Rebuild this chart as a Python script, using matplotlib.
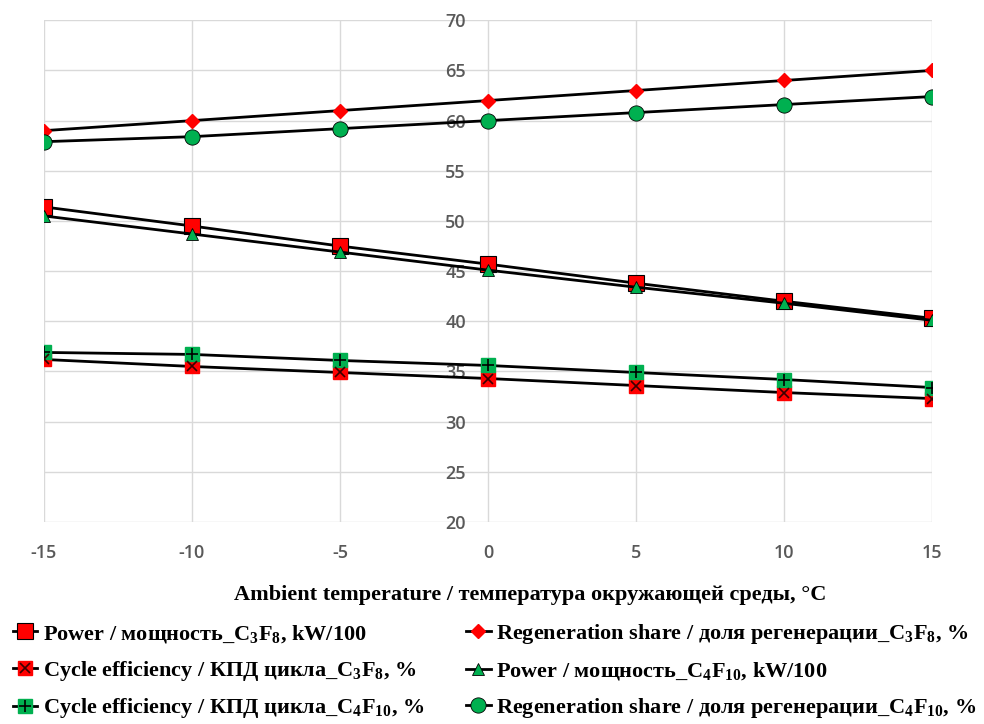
import matplotlib
matplotlib.use("Agg")
import matplotlib.pyplot as plt
from matplotlib.legend_handler import HandlerTuple

plt.rcParams['axes.unicode_minus'] = False
plt.rcParams['mathtext.default'] = 'regular'

# data
temp = [-15, -10, -5, 0, 5, 10, 15]
power_c3f8 = [51.4, 49.5, 47.5, 45.7, 43.8, 42.0, 40.3]
regen_c3f8 = [59, 60, 61, 62, 63, 64, 65]
eff_c3f8 = [36.2, 35.5, 34.9, 34.3, 33.6, 32.9, 32.3]
power_c4f10 = [50.5, 48.7, 46.9, 45.1, 43.4, 41.8, 40.1]
eff_c4f10 = [36.9, 36.7, 36.1, 35.6, 34.9, 34.2, 33.4]
regen_c4f10 = [57.9, 58.4, 59.2, 60.0, 60.8, 61.6, 62.4]

labels = [
    "Power / мощность_C$_3$F$_8$, kW/100",
    "Cycle efficiency / КПД цикла_C$_3$F$_8$, %",
    "Cycle efficiency / КПД цикла_C$_4$F$_{10}$, %",
    "Regeneration share / доля регенерации_C$_3$F$_8$, %",
    "Power / мощность_C$_4$F$_{10}$, kW/100",
    "Regeneration share / доля регенерации_C$_4$F$_{10}$, %",
]

red = '#ff0000'
green = '#00b050'

fig = plt.figure(figsize=(9.84, 7.24), dpi=100)
ax = fig.add_axes([0.0447, 0.279, 0.9025, 0.693])

h1, = ax.plot(temp, power_c3f8, color='black', lw=2, marker='s', ms=11,
              mfc=red, mec='black', mew=0.8, zorder=3)
h4, = ax.plot(temp, regen_c3f8, color='black', lw=2, marker='D', ms=7,
              mfc=red, mec=red, zorder=3)
h2a, = ax.plot(temp, eff_c3f8, color='black', lw=2, marker='s', ms=10,
               mfc=red, mec=red, zorder=3)
h2b, = ax.plot(temp, eff_c3f8, ls='none', marker='x', ms=7, mec='#3a0000',
               mew=1.2, zorder=4)
h5, = ax.plot(temp, power_c4f10, color='black', lw=2, marker='^', ms=9,
              mfc=green, mec='black', mew=0.6, zorder=4)
h3a, = ax.plot(temp, eff_c4f10, color='black', lw=2, marker='s', ms=10,
               mfc=green, mec=green, zorder=3)
h3b, = ax.plot(temp, eff_c4f10, ls='none', marker='+', ms=9, mec='black',
               mew=1.2, zorder=4)
h6, = ax.plot(temp, regen_c4f10, color='black', lw=2, marker='o', ms=11,
              mfc=green, mec='black', mew=0.6, zorder=3)

ax.set_xlim(-15, 15)
ax.set_ylim(20, 70)
ax.set_xticks(range(-15, 16, 5))
ax.set_yticks(range(20, 71, 5))
ax.grid(True, color='#d9d9d9', lw=1)
ax.set_axisbelow(True)
for s in ax.spines.values():
    s.set_color('none')
ax.spines['left'].set_position(('data', 0))
ax.tick_params(axis='both', length=0, labelsize=13, labelcolor='#595959')
ax.tick_params(axis='x', pad=16)
ax.tick_params(axis='y', pad=16)
for t in ax.get_xticklabels() + ax.get_yticklabels():
    t.set_fontfamily('Open Sans')
    t.set_fontweight('semibold')

ax.set_xlabel("Ambient temperature / температура окружающей среды, °C",
              fontfamily='Liberation Serif', fontweight='bold', fontsize=16)
ax.xaxis.set_label_coords(0.547, -0.125)

handles = [h1, (h2a, h2b), (h3a, h3b), h4, h5, h6]
fig.legend(handles, labels, loc='upper left', bbox_to_anchor=(-0.003, 0.162),
           ncol=2, frameon=False, handlelength=1.1, handletextpad=0.25,
           columnspacing=1.9, labelspacing=0.62, borderaxespad=0.3,
           handler_map={tuple: HandlerTuple(ndivide=1)},
           prop={'family': 'Liberation Serif', 'weight': 'bold', 'size': 16})

fig.savefig('out.png', dpi=100)
